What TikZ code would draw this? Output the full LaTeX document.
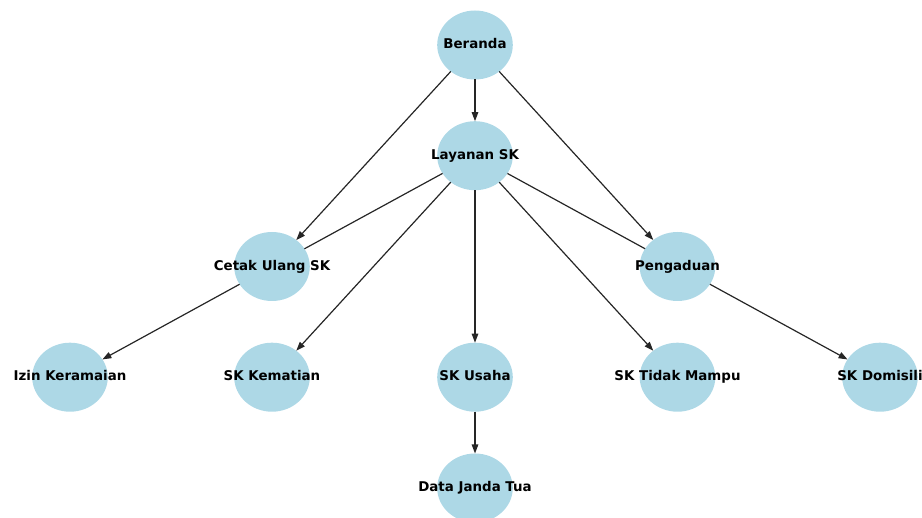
\documentclass[tikz,border=0pt]{standalone}
\usepackage{fontspec}
\setmainfont{DejaVu Sans}
\usetikzlibrary{shapes.geometric,arrows.meta}
\definecolor{nodeblue}{HTML}{ADD8E6}

\begin{document}
\begin{tikzpicture}[x=1pt,y=-1pt, % site map
    vert/.style={ellipse, fill=nodeblue, minimum width=75.6pt, minimum height=69pt,
      inner sep=0pt, outer sep=0pt},
    every label/.style={font=\bfseries\fontsize{13.4}{15}\selectfont, inner sep=0pt,
      text height=9.8pt, text depth=2.6pt},
    edge/.style={line width=1.2pt, black!85},
    arr/.style={edge, -{Triangle[length=9pt,width=6.5pt]}}]
  \useasboundingbox (0,0) rectangle (922,518);
  \node[vert, label=center:Beranda] (beranda) at (475,45) {};
  \node[vert, label=center:Layanan SK] (layanan) at (475,155.7) {};
  \node[vert, label=center:Cetak Ulang SK] (cetak) at (272,266.5) {};
  \node[vert, label=center:Pengaduan] (aduan) at (677.5,266.5) {};
  \node[vert, label=center:Izin Keramaian] (izin) at (70,377.2) {};
  \node[vert, label=center:SK Kematian] (mati) at (272,377.2) {};
  \node[vert, label=center:SK Usaha] (usaha) at (475,377.2) {};
  \node[vert, label=center:SK Tidak Mampu] (tdkmampu) at (677.5,377.2) {};
  \node[vert, label=center:SK Domisili] (domisili) at (880,377.2) {};
  \node[vert, label=center:Data Janda Tua] (janda) at (475,488) {};
  \draw[arr] (beranda) -- (layanan);
  \draw[arr] (beranda) -- (cetak);
  \draw[arr] (beranda) -- (aduan);
  \draw[edge] (layanan) -- (cetak);
  \draw[edge] (layanan) -- (aduan);
  \draw[arr] (layanan) -- (mati);
  \draw[arr] (layanan) -- (usaha);
  \draw[arr] (layanan) -- (tdkmampu);
  \draw[arr] (cetak) -- (izin);
  \draw[arr] (aduan) -- (domisili);
  \draw[arr] (usaha) -- (janda);
\end{tikzpicture}
\end{document}
